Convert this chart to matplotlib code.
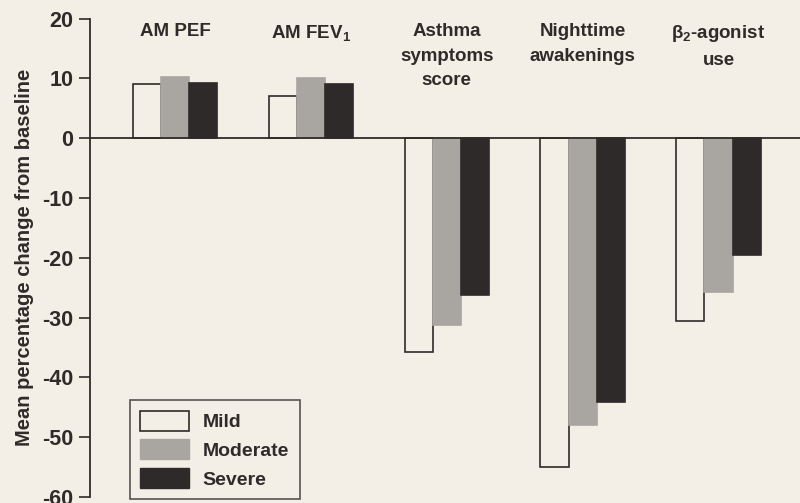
import numpy as np
import matplotlib
matplotlib.use("Agg")
from matplotlib import pyplot as plt
from matplotlib.patches import Patch

# outcome measures and % change from baseline by severity group
categories = ["AM PEF", "AM FEV$_\\mathbf{1}$", "Asthma\nsymptoms\nscore",
              "Nighttime\nawakenings", "$\\mathbf{\\beta}_\\mathbf{2}$-agonist\nuse"]
mild = [9.0, 7.0, -35.8, -55.0, -30.5]
moderate = [10.2, 10.0, -31.3, -48.0, -25.8]
severe = [9.2, 9.0, -26.2, -44.2, -19.6]
series_names = ["Mild", "Moderate", "Severe"]
yticks = [20, 10, 0, -10, -20, -30, -40, -50, -60]

paper = "#f3efe6"
ink = "#2f2b29"
fills = [paper, "#a9a6a1", "#2e2a2a"]

plt.rcParams["font.family"] = ["Liberation Sans", "DejaVu Sans"]
plt.rcParams["font.weight"] = "bold"
plt.rcParams["mathtext.fontset"] = "custom"
plt.rcParams["mathtext.rm"] = "Liberation Sans:bold"
plt.rcParams["mathtext.bf"] = "Liberation Sans:bold"
plt.rcParams["mathtext.it"] = "Liberation Sans:bold"

fig = plt.figure(figsize=(8, 5.03), dpi=100, facecolor=paper)
ax = fig.add_axes([0.1125, 0.012, 0.8875, 0.951])
ax.set_facecolor(paper)

x = np.arange(len(categories))
w = 0.207
for i, (vals, c) in enumerate(zip([mild, moderate, severe], fills)):
    ec = ink if i == 0 else c
    ax.bar(x + (i - 1) * w, vals, w, color=c, edgecolor=ec, linewidth=1.2,
           label=series_names[i])

ax.axhline(0, color=ink, lw=1.3, zorder=3)
ax.set_xlim(-0.626, 4.6)
ax.set_ylim(-60, 20)
ax.set_yticks(yticks)
ax.set_yticklabels([str(t) for t in yticks], fontsize=15.5, fontweight="bold", color=ink)
ax.tick_params(axis="y", direction="out", length=8, width=1.2, color=ink, pad=4)
ax.set_xticks([])
for s in ["top", "right", "bottom"]:
    ax.spines[s].set_visible(False)
ax.spines["left"].set_color(ink)
ax.spines["left"].set_linewidth(1.3)

ax.set_ylabel("Mean percentage change from baseline", fontsize=14.5,
              fontweight="bold", color=ink, labelpad=6)

for xi, lab in zip(x, categories):
    ax.text(xi, 19.2, lab, ha="center", va="top", fontsize=13.5,
            fontweight="bold", color=ink, linespacing=1.55)

handles = [Patch(facecolor=fills[0], edgecolor=ink, lw=1.2),
           Patch(facecolor=fills[1], edgecolor=fills[1]),
           Patch(facecolor=fills[2], edgecolor=fills[2])]
leg = ax.legend(handles, series_names, loc="lower left",
                bbox_to_anchor=(0.056, -0.005), fontsize=14, frameon=True,
                fancybox=False, handlelength=2.5, handleheight=1.2,
                borderpad=0.55, labelspacing=0.42, handletextpad=0.7,
                borderaxespad=0)
leg.get_frame().set_edgecolor(ink)
leg.get_frame().set_facecolor(paper)
leg.get_frame().set_linewidth(1.2)
for t in leg.get_texts():
    t.set_color(ink)
    t.set_fontweight("bold")

fig.savefig("out.png", dpi=100, facecolor=paper)
